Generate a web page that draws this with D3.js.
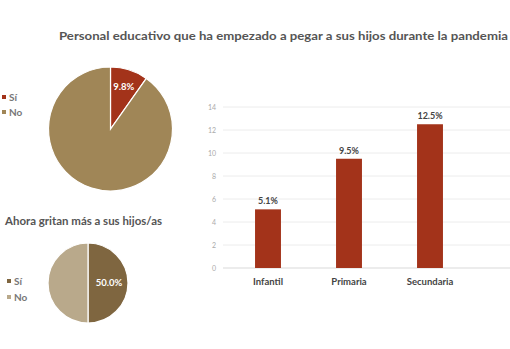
<!DOCTYPE html>
<html><head><meta charset="utf-8">
<script src="https://cdn.jsdelivr.net/npm/d3@7"></script>
<style>body{margin:0;background:#fff}svg{display:block;font-family:Lato,"DejaVu Sans",sans-serif}</style>
</head><body><svg id="c" width="510" height="349"></svg>
<script>
const pie1Labels = ["Sí", "No"];
const pie1Values = [9.8, 90.2];
const pie2Labels = ["Sí", "No"];
const pie2Values = [50.0, 50.0];
const barCategories = ["Infantil", "Primaria", "Secundaria"];
const barValues = [5.1, 9.5, 12.5];
const yTicks = [0, 2, 4, 6, 8, 10, 12, 14];
const title1 = "Personal educativo que ha empezado a pegar a sus hijos durante la pandemia";
const title2 = "Ahora gritan más a sus hijos/as";

const svg = d3.select("#c");
const pie1Colors = ["#a3331a", "#a08657"];
const pie2Colors = ["#7f6640", "#b9a98b"];

svg.append("text").attr("x", 59).attr("y", 40).attr("font-size", 11.5).attr("font-weight", 700)
  .attr("fill", "#555").attr("textLength", 449).attr("lengthAdjust", "spacingAndGlyphs").text(title1);
svg.append("text").attr("x", 5).attr("y", 225).attr("font-size", 10.5).attr("font-weight", 700)
  .attr("fill", "#555").attr("textLength", 157).attr("lengthAdjust", "spacingAndGlyphs").text(title2);

function drawPie(cx, cy, r, labels, values, colors, labelR, showIdx) {
  const g = svg.append("g").attr("transform", `translate(${cx},${cy})`);
  const arcs = d3.pie().sort(null)(values);
  const arc = d3.arc().innerRadius(0).outerRadius(r);
  g.selectAll("path").data(arcs).join("path").attr("d", arc)
    .attr("fill", (d, i) => colors[i]).attr("stroke", "#fff").attr("stroke-width", 1.2);
  const la = d3.arc().innerRadius(labelR).outerRadius(labelR);
  const d = arcs[showIdx];
  g.append("text").attr("transform", `translate(${la.centroid(d)})`).attr("text-anchor", "middle")
    .attr("dy", "0.35em").attr("font-size", 9.5).attr("font-weight", 700).attr("fill", "#fff")
    .text(values[showIdx].toFixed(1) + "%");
}
drawPie(110.5, 129, 62, pie1Labels, pie1Values, pie1Colors, 44, 0);
drawPie(88, 283, 40, pie2Labels, pie2Values, pie2Colors, 21, 0);

function legend(x, y, labels, colors, gap) {
  labels.forEach((l, i) => {
    svg.append("rect").attr("x", x).attr("y", y + i * gap - 2).attr("width", 4).attr("height", 4).attr("fill", colors[i]);
    svg.append("text").attr("x", x + 7).attr("y", y + i * gap).attr("dy", "0.35em")
      .attr("font-size", 10).attr("font-weight", 700).attr("fill", "#777").text(l);
  });
}
legend(2, 97, pie1Labels, pie1Colors, 15);
legend(7, 281, pie2Labels, pie2Colors, 16);

// bar chart
const y = d3.scaleLinear().domain([0, 14]).range([268, 107]);
const x = d3.scaleBand().domain(barCategories).range([227.5, 470.5]).paddingInner(0.68).paddingOuter(0.34);
const grid = svg.append("g");
grid.selectAll("line").data(yTicks).join("line")
  .attr("x1", 223).attr("x2", 510).attr("y1", d => y(d)).attr("y2", d => y(d))
  .attr("stroke", d => d === 0 ? "#d9d9d9" : "#ececec").attr("stroke-width", 1);
const yAxis = svg.append("g").attr("transform", "translate(216,0)")
  .call(d3.axisLeft(y).tickValues(yTicks).tickSize(0).tickPadding(0));
yAxis.select(".domain").remove();
yAxis.selectAll("text").attr("font-size", 7).attr("fill", "#aaa").attr("font-family", "Lato,sans-serif");

svg.append("g").selectAll("rect").data(barValues).join("rect")
  .attr("x", (d, i) => x(barCategories[i])).attr("width", x.bandwidth())
  .attr("y", d => y(d)).attr("height", d => y(0) - y(d)).attr("fill", "#a3331a");
svg.append("g").selectAll("text").data(barValues).join("text")
  .attr("x", (d, i) => x(barCategories[i]) + x.bandwidth() / 2).attr("y", d => y(d) - 5)
  .attr("text-anchor", "middle").attr("font-size", 9).attr("font-weight", 700).attr("fill", "#444")
  .text(d => d.toFixed(1) + "%");
const xAxis = svg.append("g").attr("transform", "translate(0,268)")
  .call(d3.axisBottom(x).tickSize(0).tickPadding(10));
xAxis.select(".domain").remove();
xAxis.selectAll("text").attr("font-size", 9.5).attr("font-weight", 700).attr("fill", "#444").attr("font-family", "Lato,sans-serif");
</script></body></html>
